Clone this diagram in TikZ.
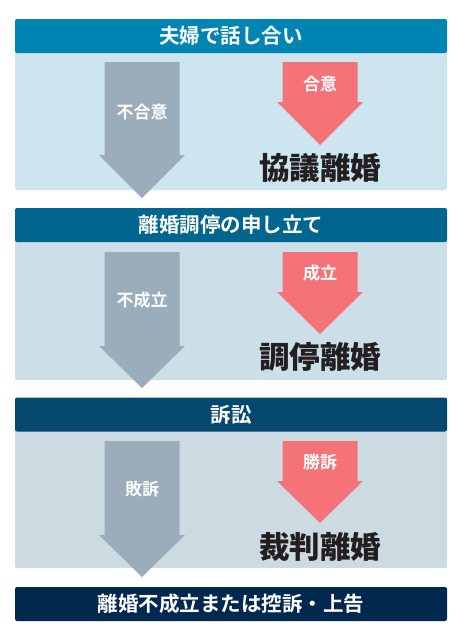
\documentclass[tikz,border=0pt]{standalone}
\usepackage{fontspec}
\setmainfont{Noto Sans CJK JP}[BoldFont={Noto Sans CJK JP Bold}]
\newfontfamily\heavyjp{Noto Sans CJK JP Black}
\usetikzlibrary{positioning}
\definecolor{talk}{HTML}{0085B3}
\definecolor{mediation}{HTML}{00658F}
\definecolor{lawsuit}{HTML}{044870}
\definecolor{failed}{HTML}{03284F}
\definecolor{talkbg}{HTML}{CCE5EF}
\definecolor{mediationbg}{HTML}{CCDFE8}
\definecolor{lawsuitbg}{HTML}{CCDBE2}
\definecolor{nogo}{HTML}{9BADBA}
\definecolor{agreed}{HTML}{F47378}
\definecolor{inkjp}{HTML}{231F20}

% block arrow: centre x, top, start of head, tip, colour
\newcommand{\blockarrow}[5]{%
  \fill[#5] (#1-37.5,#2) -- (#1+37.5,#2) -- (#1+37.5,#3) -- (#1+43,#3)
    -- (#1,#4) -- (#1-43,#3) -- (#1-37.5,#3) -- cycle;}

\begin{document}
\begin{tikzpicture}[x=1pt, y=-1pt,
    header/.style={minimum width=432pt, minimum height=34pt, inner sep=0pt,
      rounded corners=2pt, text=white, font=\bfseries\fontsize{20.5}{20.5}\selectfont},
    panel/.style={minimum width=432pt, inner sep=0pt, rounded corners=2pt},
    arrowlabel/.style={text=white, inner sep=0pt, font=\bfseries\fontsize{17}{17}\selectfont},
    result/.style={text=inkjp, inner sep=0pt, font=\heavyjp\fontsize{30.5}{30.5}\selectfont}]
  \useasboundingbox[fill=white] (0,0) rectangle (462,640);

  % Talking it over
  \node[panel, fill=talkbg, minimum height=140pt] (talkpanel) at (231,120) {};
  \node[header, fill=talk] (talk) at (231,36) {夫婦で話し合い};
  \blockarrow{142}{62}{155}{198}{nogo}
  \blockarrow{320}{62}{102}{145}{agreed}
  \node[arrowlabel] (disagree) at (142,112) {不合意};
  \node[arrowlabel] (agree) at (320,84) {合意};
  \node[result] (kyogi) at (320,168) {協議離婚};

  % Mediation
  \node[panel, fill=mediationbg, minimum height=141pt] (mediationpanel) at (231,309.5) {};
  \node[header, fill=mediation] (mediation) at (231,225) {離婚調停の申し立て};
  \blockarrow{142}{252}{346}{388}{nogo}
  \blockarrow{320}{252}{292}{334}{agreed}
  \node[arrowlabel] (unsettled) at (142,300) {不成立};
  \node[arrowlabel] (settled) at (320,273) {成立};
  \node[result] (chotei) at (320,357) {調停離婚};

  % Lawsuit
  \node[panel, fill=lawsuitbg, minimum height=139pt] (lawsuitpanel) at (231,498.5) {};
  \node[header, fill=lawsuit] (lawsuit) at (231,414.5) {訴訟};
  \blockarrow{142}{441}{535}{577}{nogo}
  \blockarrow{320}{441}{481}{523}{agreed}
  \node[arrowlabel] (lost) at (142,489) {敗訴};
  \node[arrowlabel] (won) at (320,462) {勝訴};
  \node[result] (saiban) at (320,547) {裁判離婚};

  % Outcome
  \node[header, fill=failed] (appeal) at (231,604) {離婚不成立または控訴・上告};
\end{tikzpicture}
\end{document}
